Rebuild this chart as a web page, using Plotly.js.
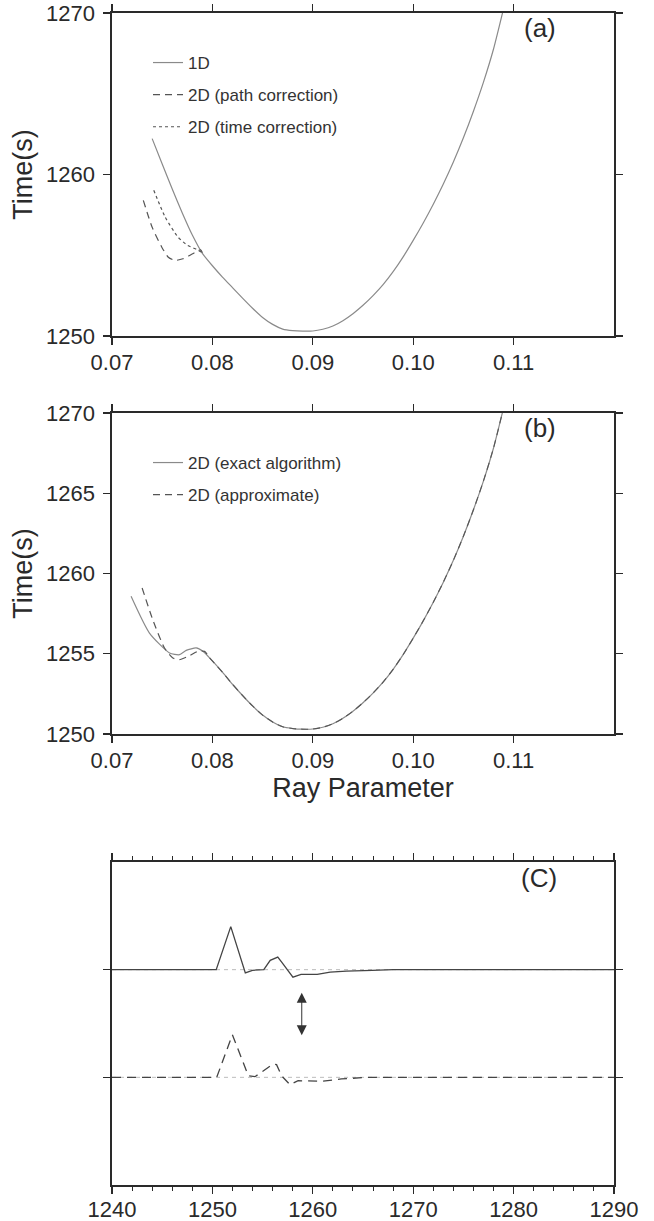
<!DOCTYPE html>
<html>
<head>
<meta charset="utf-8">
<script src="https://cdn.plot.ly/plotly-3.0.1.min.js"></script>
<style>html,body{margin:0;padding:0;background:#fff;}#chart{width:654px;height:1221px;}</style>
</head>
<body>
<div id="chart"></div>
<script>
// ---------- Panel (a) ----------
const rayA_1D = [0.0740,0.0750,0.0760,0.0770,0.0780,0.0790,0.0800,0.0810,0.0820,0.0830,0.0840,0.0850,0.0860,0.0870,0.0880,0.0890,0.0900,0.0910,0.0920,0.0930,0.0940,0.0950,0.0960,0.0970,0.0980,0.0990,0.1000,0.1010,0.1020,0.1030,0.1040,0.1050,0.1060,0.1070,0.1080,0.1090];
const timeA_1D = [1262.22,1260.65,1259.10,1257.62,1256.25,1255.12,1254.35,1253.65,1253.00,1252.35,1251.72,1251.15,1250.72,1250.43,1250.33,1250.30,1250.31,1250.42,1250.62,1250.95,1251.38,1251.90,1252.50,1253.18,1253.98,1254.90,1255.92,1257.00,1258.16,1259.41,1260.77,1262.27,1263.92,1265.72,1267.77,1270.27];
const rayA_path = [0.07312,0.07399,0.07496,0.07561,0.07626,0.07706,0.07803,0.07883,0.0790];
const timeA_path = [1258.40,1256.75,1255.50,1254.88,1254.68,1254.78,1255.09,1255.34,1255.15];
const rayA_time = [0.07416,0.07529,0.07658,0.07754,0.07851,0.0790];
const timeA_time = [1259.03,1257.37,1256.12,1255.61,1255.34,1255.15];

// ---------- Panel (b) ----------
const rayB_exact = [0.07190,0.07373,0.07573,0.07672,0.07739,0.07839,0.07905,0.07972,0.0810,0.0820,0.0830,0.0840,0.0850,0.0860,0.0870,0.0880,0.0890,0.0900,0.0910,0.0920,0.0930,0.0940,0.0950,0.0960,0.0970,0.0980,0.0990,0.1000,0.1010,0.1020,0.1030,0.1040,0.1050,0.1060,0.1070,0.1080,0.1090];
const timeB_exact = [1258.58,1256.29,1255.05,1254.94,1255.21,1255.36,1255.15,1254.74,1253.85,1253.10,1252.40,1251.75,1251.18,1250.75,1250.45,1250.34,1250.30,1250.31,1250.42,1250.64,1250.98,1251.42,1251.95,1252.55,1253.23,1254.03,1254.95,1255.97,1257.05,1258.21,1259.46,1260.82,1262.32,1263.97,1265.77,1267.82,1270.32];
const rayB_approx = [0.07300,0.07406,0.07523,0.07606,0.07672,0.07772,0.07856,0.07922,0.07972];
const timeB_approx = [1259.10,1257.12,1255.36,1254.74,1254.63,1254.88,1255.15,1255.15,1254.74];

const rayTicks = [0.07,0.08,0.09,0.10,0.11];
const rayTickLabels = ['0.07','0.08','0.09','0.10','0.11'];
const timeTicksA = [1250,1260,1270];
const timeTicksB = [1250,1255,1260,1265,1270];

// ---------- Panel (c) ----------
const waveTime1 = [1240,1250.38,1251.83,1253.28,1253.99,1255.12,1255.76,1256.51,1256.90,1258.02,1258.83,1260.44,1261.73,1263.34,1265.92,1268.0,1290];
const waveAmp1  = [0,0,0.40,-0.03,-0.006,0,0.087,0.117,0.07,-0.07,-0.044,-0.044,-0.022,-0.013,-0.006,0,0];
const waveTime2 = [1240,1250.43,1251.99,1253.58,1254.24,1254.90,1256.06,1256.39,1256.89,1257.72,1258.54,1260.86,1262.85,1265.50,1290];
const waveAmp2  = [0,0,0.396,0.015,0.006,0.046,0.124,0.118,0.015,-0.068,-0.031,-0.037,-0.015,0,0];
const waveOffsets = [2,1];
const timeRangeC = [1240,1290];
const arrowTime = 1258.9;
const arrowSpan = [1.39,1.80];

const FONT = 'Liberation Sans, Arial, Helvetica, sans-serif';
const INK = '#2a2a2a';
const CURVE = '#555';
const tickFont = {family: FONT, size: 22, color: INK};
const titleFont = {family: FONT, size: 27, color: INK};
const legFont = {family: FONT, size: 17, color: '#333'};
const panelFont = {family: FONT, size: 26, color: INK};

const H = 1221, W = 654;
const XD = [112/W, 614/W];
const yd = (top, bot) => [1 - bot/H, 1 - top/H];

const axBase = {
  showline: true, linecolor: INK, linewidth: 1.7, mirror: 'ticks',
  ticks: 'outside', ticklen: 7, tickwidth: 1.3, tickcolor: INK,
  showgrid: false, zeroline: false, tickfont: tickFont
};

const traces = [
  {x: rayA_1D, y: timeA_1D, xaxis: 'x', yaxis: 'y', mode: 'lines', name: '1D',
   line: {color: '#8a8a8a', width: 1.2, shape: 'spline', smoothing: 0.6}, legend: 'legend', legendgroup: 'a1'},
  {x: rayA_path, y: timeA_path, xaxis: 'x', yaxis: 'y', mode: 'lines', name: '2D (path correction)',
   line: {color: CURVE, width: 1.2, dash: '7px,5px', shape: 'spline', smoothing: 0.6}, legend: 'legend', legendgroup: 'a2'},
  {x: rayA_time, y: timeA_time, xaxis: 'x', yaxis: 'y', mode: 'lines', name: '2D (time correction)',
   line: {color: CURVE, width: 1.2, dash: '3px,3px', shape: 'spline', smoothing: 0.6}, legend: 'legend', legendgroup: 'a3'},
  {x: rayB_exact, y: timeB_exact, xaxis: 'x2', yaxis: 'y2', mode: 'lines', name: '2D (exact algorithm)',
   line: {color: '#8a8a8a', width: 1.2, shape: 'spline', smoothing: 0.6}, legend: 'legend2', legendgroup: 'b1'},
  {x: rayB_approx, y: timeB_approx, xaxis: 'x2', yaxis: 'y2', mode: 'lines', name: '2D (approximate)',
   line: {color: CURVE, width: 1.2, dash: '7px,5px', shape: 'spline', smoothing: 0.6}, legend: 'legend2', legendgroup: 'b2'}
];
// the approximate curve's shared part (overlapping the exact curve), dashed
traces.push({x: rayB_exact.slice(7), y: timeB_exact.slice(7), xaxis: 'x2', yaxis: 'y2', mode: 'lines', showlegend: false,
   line: {color: CURVE, width: 1.1, dash: '7px,5px', shape: 'spline', smoothing: 0.6}, hoverinfo: 'skip'});

// panel (c) reference zero lines
waveOffsets.forEach(o => traces.push({x: timeRangeC, y: [o, o], xaxis: 'x3', yaxis: 'y3', mode: 'lines', showlegend: false,
  line: {color: '#aaa', width: 0.8, dash: '4px,4px'}, hoverinfo: 'skip'}));
traces.push({x: waveTime1, y: waveAmp1.map(a => a + waveOffsets[0]), xaxis: 'x3', yaxis: 'y3', mode: 'lines', showlegend: false,
  line: {color: '#444', width: 1.3}});
traces.push({x: waveTime2, y: waveAmp2.map(a => a + waveOffsets[1]), xaxis: 'x3', yaxis: 'y3', mode: 'lines', showlegend: false,
  line: {color: '#444', width: 1.3, dash: '9px,6px'}});

const legendBase = {font: legFont, bgcolor: 'rgba(0,0,0,0)', borderwidth: 0, traceorder: 'grouped', tracegroupgap: 7,
  xanchor: 'left', yanchor: 'top'};

const layout = {
  width: W, height: H, margin: {l: 0, r: 0, t: 0, b: 0},
  paper_bgcolor: '#fff', plot_bgcolor: '#fff', font: {family: FONT, color: INK},
  showlegend: true,
  legend: Object.assign({}, legendBase, {x: 148/W, y: 1 - 45/H}),
  legend2: Object.assign({}, legendBase, {x: 148/W, y: 1 - 445/H}),
  xaxis: Object.assign({}, axBase, {domain: XD, anchor: 'y', range: [0.07, 0.12], tickvals: rayTicks, ticktext: rayTickLabels,
    ticklabelstandoff: -1}),
  yaxis: Object.assign({}, axBase, {domain: yd(13, 336), anchor: 'x', range: [1250, 1270], tickvals: timeTicksA,
    ticklabelstandoff: 4, title: {text: 'Time(s)', font: titleFont, standoff: 5}}),
  xaxis2: Object.assign({}, axBase, {domain: XD, anchor: 'y2', range: [0.07, 0.12], tickvals: rayTicks, ticktext: rayTickLabels,
    ticklabelstandoff: -1, title: {text: 'Ray Parameter', font: titleFont, standoff: 4}}),
  yaxis2: Object.assign({}, axBase, {domain: yd(413, 734), anchor: 'x2', range: [1250, 1270], tickvals: timeTicksB,
    ticklabelstandoff: 4, title: {text: 'Time(s)', font: titleFont, standoff: 5}}),
  xaxis3: Object.assign({}, axBase, {domain: XD, anchor: 'y3', range: timeRangeC, dtick: 10, tick0: 1240,
    ticklabelstandoff: -3,
    minor: {dtick: 2, ticks: 'outside', ticklen: 4, tickwidth: 1, tickcolor: INK}}),
  yaxis3: Object.assign({}, axBase, {domain: yd(862, 1185), anchor: 'x3', range: [0, 3], tickvals: [1, 2], showticklabels: false}),
  annotations: [
    {text: '(a)', xref: 'paper', yref: 'paper', x: 540/W, y: 1 - 28/H, xanchor: 'center', yanchor: 'middle', showarrow: false, font: panelFont},
    {text: '(b)', xref: 'paper', yref: 'paper', x: 540/W, y: 1 - 428/H, xanchor: 'center', yanchor: 'middle', showarrow: false, font: panelFont},
    {text: '(C)', xref: 'paper', yref: 'paper', x: 539/W, y: 1 - 878/H, xanchor: 'center', yanchor: 'middle', showarrow: false, font: panelFont},
    {text: '', xref: 'x3', yref: 'y3', axref: 'x3', ayref: 'y3', x: arrowTime, y: arrowSpan[0], ax: arrowTime, ay: arrowSpan[1],
     showarrow: true, arrowside: 'end+start', arrowhead: 2, startarrowhead: 2, arrowsize: 2, startarrowsize: 2,
     arrowwidth: 1, arrowcolor: '#333'}
  ]
};

Plotly.newPlot('chart', traces, layout, {staticPlot: true});
</script>
</body>
</html>
